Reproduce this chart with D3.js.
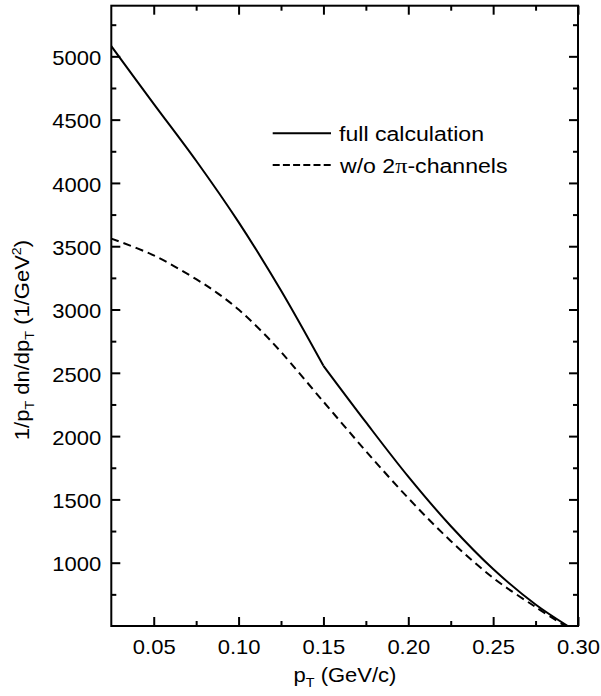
<!DOCTYPE html>
<html>
<head>
<meta charset="utf-8">
<script src="https://cdn.jsdelivr.net/npm/d3@7"></script>
<style>
  html, body { margin: 0; padding: 0; background: #fff; }
  svg { display: block; }
  text { font-family: "Liberation Sans", Arial, Helvetica, sans-serif; fill: #000; }
</style>
</head>
<body>
<svg id="chart" width="601" height="696"></svg>
<script>
// Transverse momentum (GeV/c)
const ptFull   = [0.025, 0.05, 0.075, 0.10, 0.125, 0.15, 0.175, 0.20, 0.225, 0.25, 0.275, 0.294];
// 1/pT dn/dpT, full calculation
const yieldFull = [5080, 4625, 4175, 3690, 3150, 2555, 2110, 1680, 1290, 950, 670, 500];
// index where the full calculation has its kink (pT = 0.15)
const kinkIndex = 5;

const ptNo2Pi   = [0.025, 0.05, 0.075, 0.0875, 0.10, 0.1125, 0.125, 0.15, 0.175, 0.20, 0.225, 0.25, 0.275, 0.2925];
// 1/pT dn/dpT without the 2π channels
const yieldNo2Pi = [3560, 3428, 3240, 3130, 3000, 2842, 2665, 2272, 1882, 1510, 1172, 880, 650, 500];

const xMajorTicks = [0.05, 0.10, 0.15, 0.20, 0.25, 0.30];
const xMinorTicks = [0.075, 0.125, 0.175, 0.225, 0.275];
const yMajorTicks = [1000, 1500, 2000, 2500, 3000, 3500, 4000, 4500, 5000];
const yMinorTicks = [750, 1250, 1750, 2250, 2750, 3250, 3750, 4250, 4750, 5250];

const STRETCH = 1.1;   // horizontal stretch of the lettering
const FONT = 20;

const svg = d3.select("#chart");
const pLeft = 111.3, pRight = 578, pTop = 5.7, pBottom = 626;

const x = d3.scaleLinear().domain([0.025, 0.30]).range([pLeft, pRight]);
const y = d3.scaleLinear().domain([500, 5400]).range([pBottom, pTop]);

svg.append("rect").attr("width", 601).attr("height", 696).attr("fill", "#fff");

svg.append("defs").append("clipPath").attr("id", "plotClip")
  .append("rect").attr("x", pLeft).attr("y", pTop)
  .attr("width", pRight - pLeft).attr("height", pBottom - pTop);

// stretch every text of an axis horizontally around its anchor point
function stretchTexts(g, dy) {
  g.selectAll("text").each(function () {
    const t = d3.select(this);
    const tx = +t.attr("x") || 0, ty = +t.attr("y") || 0;
    t.attr("x", 0).attr("y", 0)
     .attr("transform", `translate(${tx},${ty}) scale(${STRETCH},1)`);
    if (dy) t.attr("dy", dy);
  });
}

function styleAxis(g) {
  g.select(".domain").remove();
  g.selectAll(".tick line").attr("stroke", "#000").attr("stroke-width", 2);
  g.selectAll("text").attr("font-size", FONT).attr("font-family", null).attr("fill", "#000");
}

const fmtX = d3.format(".2f");

// bottom axis
const gB = svg.append("g").attr("transform", `translate(0,${pBottom})`)
  .call(d3.axisBottom(x).tickValues(xMajorTicks).tickSizeInner(-9).tickSizeOuter(0).tickPadding(14).tickFormat(fmtX));
styleAxis(gB); stretchTexts(gB);
const gBm = svg.append("g").attr("transform", `translate(0,${pBottom})`)
  .call(d3.axisBottom(x).tickValues(xMinorTicks).tickSizeInner(-5).tickSizeOuter(0).tickFormat(""));
styleAxis(gBm);

// top axis
const gT = svg.append("g").attr("transform", `translate(0,${pTop})`)
  .call(d3.axisTop(x).tickValues(xMajorTicks).tickSizeInner(-9).tickSizeOuter(0).tickFormat(""));
styleAxis(gT);
const gTm = svg.append("g").attr("transform", `translate(0,${pTop})`)
  .call(d3.axisTop(x).tickValues(xMinorTicks).tickSizeInner(-5).tickSizeOuter(0).tickFormat(""));
styleAxis(gTm);

// left axis
const gL = svg.append("g").attr("transform", `translate(${pLeft},0)`)
  .call(d3.axisLeft(y).tickValues(yMajorTicks).tickSizeInner(-9).tickSizeOuter(0).tickPadding(10).tickFormat(d3.format("d")));
styleAxis(gL); stretchTexts(gL, "0.41em");
const gLm = svg.append("g").attr("transform", `translate(${pLeft},0)`)
  .call(d3.axisLeft(y).tickValues(yMinorTicks).tickSizeInner(-5).tickSizeOuter(0).tickFormat(""));
styleAxis(gLm);

// right axis
const gR = svg.append("g").attr("transform", `translate(${pRight},0)`)
  .call(d3.axisRight(y).tickValues(yMajorTicks).tickSizeInner(-9).tickSizeOuter(0).tickFormat(""));
styleAxis(gR);
const gRm = svg.append("g").attr("transform", `translate(${pRight},0)`)
  .call(d3.axisRight(y).tickValues(yMinorTicks).tickSizeInner(-5).tickSizeOuter(0).tickFormat(""));
styleAxis(gRm);

// frame
svg.append("rect").attr("x", pLeft).attr("y", pTop)
  .attr("width", pRight - pLeft).attr("height", pBottom - pTop)
  .attr("fill", "none").attr("stroke", "#000").attr("stroke-width", 2);

// curves
const line = d3.line().x(d => x(d[0])).y(d => y(d[1])).curve(d3.curveCatmullRom.alpha(0.5));
const fullPts = ptFull.map((p, i) => [p, yieldFull[i]]);
const no2PiPts = ptNo2Pi.map((p, i) => [p, yieldNo2Pi[i]]);

const curves = svg.append("g").attr("clip-path", "url(#plotClip)");
// full calculation: two smooth pieces meeting at the kink
[fullPts.slice(0, kinkIndex + 1), fullPts.slice(kinkIndex)].forEach(seg => {
  curves.append("path").attr("d", line(seg))
    .attr("fill", "none").attr("stroke", "#000").attr("stroke-width", 2)
    .attr("stroke-linejoin", "round");
});
curves.append("path").attr("d", line(no2PiPts))
  .attr("fill", "none").attr("stroke", "#000").attr("stroke-width", 2)
  .attr("stroke-dasharray", "8,5");

// legend
const legend = svg.append("g");
const legRows = [
  { y: 133.3, dash: null, tx: 339, parts: [["full calculation", null]] },
  { y: 165,   dash: "7,3.2", tx: 340, parts: [["w/o 2", null], ["π", "Liberation Serif"], ["-channels", null]] }
];
legRows.forEach(r => {
  legend.append("line").attr("x1", 272.7).attr("x2", 331).attr("y1", r.y).attr("y2", r.y)
    .attr("stroke", "#000").attr("stroke-width", 2)
    .attr("stroke-dasharray", r.dash);
  const t = legend.append("text").attr("font-size", 21)
    .attr("transform", `translate(${r.tx},${r.y + 7.6}) scale(${STRETCH},1)`);
  r.parts.forEach(([s, fam]) => {
    const ts = t.append("tspan").text(s);
    if (fam) ts.attr("font-family", fam).attr("font-size", 22);
  });
});

// x-axis title
const xt = svg.append("text").attr("font-size", FONT).attr("text-anchor", "middle")
  .attr("transform", `translate(345,681.7) scale(${STRETCH},1)`);
xt.append("tspan").text("p");
xt.append("tspan").attr("font-size", 13).attr("dy", 5.5).text("T");
xt.append("tspan").attr("dy", -5.5).text(" (GeV/c)");

// y-axis title
const yt = svg.append("text").attr("font-size", FONT).attr("text-anchor", "middle")
  .attr("transform", `translate(28.5,340) rotate(-90) scale(${STRETCH},1)`);
yt.append("tspan").text("1/p");
yt.append("tspan").attr("font-size", 13).attr("dy", 5.5).text("T");
yt.append("tspan").attr("dy", -5.5).text(" dn/dp");
yt.append("tspan").attr("font-size", 13).attr("dy", 5.5).text("T");
yt.append("tspan").attr("dy", -5.5).text(" (1/GeV");
yt.append("tspan").attr("font-size", 13).attr("dy", -8).text("2");
yt.append("tspan").attr("dy", 8).text(")");
</script>
</body>
</html>
